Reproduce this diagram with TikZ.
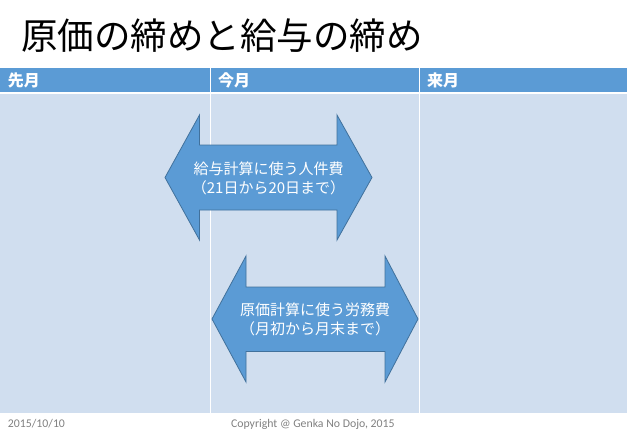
\documentclass[tikz,border=0pt]{standalone}
\usepackage{fontspec}
\newfontfamily\jpfont{Noto Sans CJK JP}
\newfontfamily\footfont{Carlito}
\usepackage{xcolor}
\usetikzlibrary{positioning}
\definecolor{hdblue}{HTML}{5B9BD5}
\definecolor{rowblue}{HTML}{D0DEEF}
\definecolor{arrowline}{HTML}{41719C}
\definecolor{footgray}{HTML}{808080}

\begin{document}
\begin{tikzpicture}
	[x=1pt,y=-1pt,
	every node/.style={inner sep=0pt,outer sep=0pt},
	headcell/.style={fill=hdblue,anchor=north west,minimum height=24pt},
	bodycell/.style={fill=rowblue,anchor=north west,minimum height=319pt},
	headlabel/.style={text=white,font=\jpfont\bfseries\fontsize{16}{16}\selectfont},
	bigarrow/.style={fill=hdblue,draw=arrowline,line width=0.8pt,line join=miter},
	arrowlabel/.style={text=white,align=center,font=\jpfont\fontsize{15}{19}\selectfont},
	footlabel/.style={text=footgray,font=\footfont\fontsize{11.8}{12}\selectfont}]
	\useasboundingbox (0,0) rectangle (629,447);
	% title
	\node[anchor=west,font=\jpfont\fontsize{36.5}{37}\selectfont] (title) at (21,36) {原価の締めと給与の締め};
	% table
	\node[headcell,minimum width=210pt] (prev) at (0,68) {};
	\node[headcell,minimum width=209pt] (cur) at (210,68) {};
	\node[headcell,minimum width=208pt] (next) at (419,68) {};
	\node[bodycell,minimum width=210pt] (prevbody) at (0,94) {};
	\node[bodycell,minimum width=209pt] (curbody) at (210,94) {};
	\node[bodycell,minimum width=208pt] (nextbody) at (419,94) {};
	\draw[white,line width=1pt] (cur.north west) -- (curbody.south west);
	\draw[white,line width=1pt] (next.north west) -- (nextbody.south west);
	\node[headlabel,right=8pt of prev.west] {先月};
	\node[headlabel,right=8pt of cur.west] {今月};
	\node[headlabel,right=8pt of next.west] {来月};
	% arrows
	\draw[bigarrow] (165,177.5) -- (199.5,115) -- (199.5,145) -- (337,145) -- (337,115) -- (372,177.5)
		-- (337,240) -- (337,210) -- (199.5,210) -- (199.5,240) -- cycle;
	\node[arrowlabel] (wage) at (268.5,178) {給与計算に使う人件費\\（21日から20日まで）};
	\draw[bigarrow] (212,319) -- (246,256) -- (246,287) -- (385,287) -- (385,256) -- (418,319)
		-- (385,382) -- (385,351.5) -- (246,351.5) -- (246,382) -- cycle;
	\node[arrowlabel] (labour) at (315,319) {原価計算に使う労務費\\（月初から月末まで）};
	% footer
	\node[footlabel,anchor=west] (date) at (8,424) {2015/10/10};
	\node[footlabel,anchor=west] (copy) at (231,424) {Copyright @ Genka No Dojo, 2015};
\end{tikzpicture}
\end{document}
